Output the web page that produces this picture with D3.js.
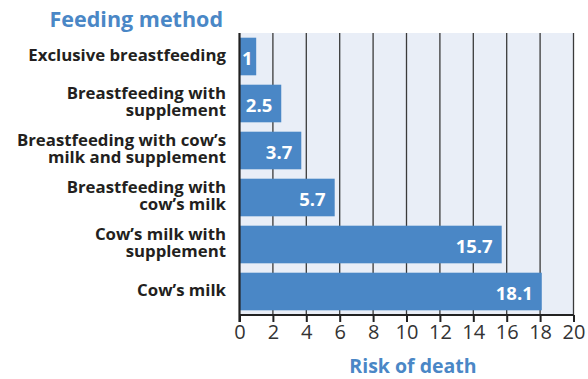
<!DOCTYPE html>
<html><head><meta charset="utf-8">
<script src="https://cdn.jsdelivr.net/npm/d3@7"></script>
<style>body{margin:0;background:#fff}svg{display:block}</style>
</head><body>
<svg id="c" width="588" height="379"></svg>
<script>
const categories = [
  ["Exclusive breastfeeding"],
  ["Breastfeeding with", "supplement"],
  ["Breastfeeding with cow’s", "milk and supplement"],
  ["Breastfeeding with", "cow’s milk"],
  ["Cow’s milk with", "supplement"],
  ["Cow’s milk"]
];
const values = [1, 2.5, 3.7, 5.7, 15.7, 18.1];
const valueLabels = ["1", "2.5", "3.7", "5.7", "15.7", "18.1"];
const xTicks = [0, 2, 4, 6, 8, 10, 12, 14, 16, 18, 20];
const yTitle = "Feeding method";
const xTitle = "Risk of death";

const blue = "#4a87c6";
const font = "'Open Sans', sans-serif";
const svg = d3.select("#c");
const m = {l: 239.5, r: 573.5, t: 33, b: 315};
const x = d3.scaleLinear().domain([0, 20]).range([m.l, m.r]);
const y = d3.scaleBand().domain(d3.range(values.length)).range([m.t, m.b]).paddingInner(0.2).paddingOuter(0.1);

svg.append("rect").attr("x", m.l).attr("y", m.t).attr("width", m.r - m.l).attr("height", m.b - m.t).attr("fill", "#e9eef7");

const grid = svg.append("g");
grid.selectAll("line").data(xTicks.slice(1)).join("line")
  .attr("x1", d => x(d)).attr("x2", d => x(d)).attr("y1", m.t).attr("y2", m.b)
  .attr("stroke", "#3a3a3a").attr("stroke-width", 1.3);

svg.selectAll("rect.bar").data(values).join("rect").attr("class", "bar")
  .attr("x", x(0)).attr("y", (d, i) => y(i)).attr("width", d => x(d) - x(0)).attr("height", y.bandwidth())
  .attr("fill", blue);

svg.selectAll("text.val").data(values).join("text").attr("class", "val")
  .attr("x", d => Math.max(x(d) - 9, x(0) + 13))
  .attr("y", (d, i) => y(i) + y.bandwidth() / 2 + 8.5)
  .attr("text-anchor", "end")
  .attr("fill", "#fff").attr("font-family", font).attr("font-weight", 700).attr("font-size", 18.5)
  .text((d, i) => valueLabels[i]);

const axis = svg.append("g").attr("transform", `translate(0,${m.b})`)
  .call(d3.axisBottom(x).tickValues(xTicks).tickSize(7).tickPadding(3).tickFormat(d3.format("d")));
axis.select(".domain").attr("stroke", "#222").attr("stroke-width", 2).attr("d", `M${m.l},0H${m.r}`);
axis.selectAll(".tick line").attr("stroke", "#222").attr("stroke-width", 2);
axis.selectAll(".tick text").attr("font-family", font).attr("font-size", 20).attr("fill", "#333");

svg.append("line").attr("x1", m.l).attr("x2", m.l).attr("y1", m.t).attr("y2", m.b + 7)
  .attr("stroke", "#222").attr("stroke-width", 2.2);

const lab = svg.append("g");
categories.forEach((lines, i) => {
  const cy = y(i) + y.bandwidth() / 2;
  const lh = 16.5;
  const first = lines.length === 1 ? cy + 4.5 : cy - 4.2;
  const t = lab.append("text").attr("text-anchor", "end").attr("font-family", font)
    .attr("font-weight", 700).attr("font-size", 16.8).attr("fill", "#231f20");
  lines.forEach((s, j) => {
    t.append("tspan").attr("x", 226).attr("y", first + j * lh).text(s);
  });
});

svg.append("text").attr("x", 223).attr("y", 27).attr("text-anchor", "end")
  .attr("font-family", font).attr("font-weight", 700).attr("font-size", 21.5).attr("fill", blue).text(yTitle);
svg.append("text").attr("x", 413).attr("y", 372.5).attr("text-anchor", "middle")
  .attr("font-family", font).attr("font-weight", 700).attr("font-size", 19.5).attr("fill", blue).text(xTitle);
</script>
</body></html>
